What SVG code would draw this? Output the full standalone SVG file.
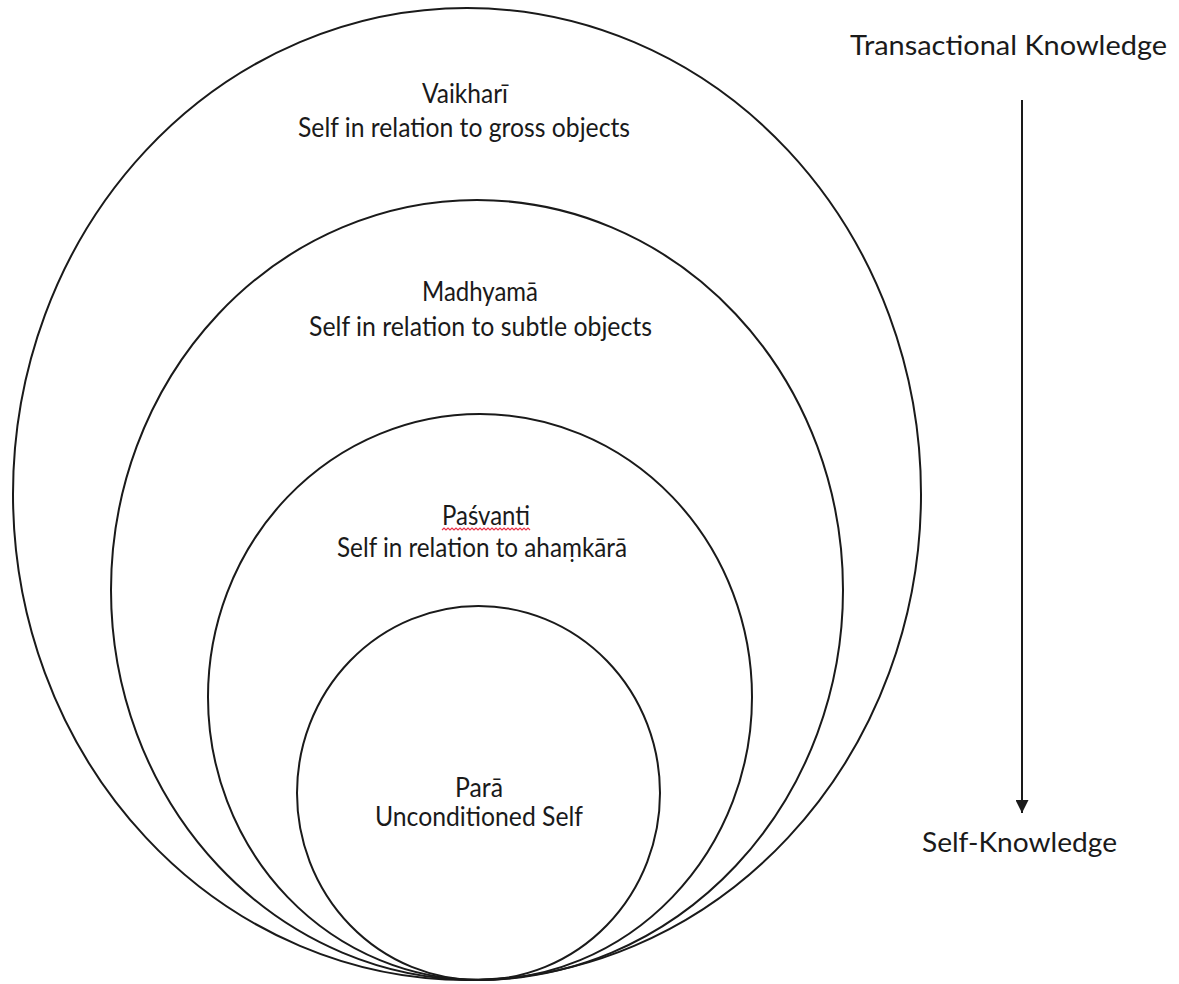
<svg xmlns="http://www.w3.org/2000/svg" width="1179" height="984" viewBox="0 0 1179 984">
<style>
.ring{fill:none;stroke:#1a1a1a;stroke-width:2}
.t{font-family:Lato,"Open Sans","Liberation Sans",sans-serif;font-size:26px;fill:#1a1a1a;text-anchor:middle}
</style>
<defs>
<marker id="ah" markerWidth="13" markerHeight="13" refX="13" refY="6.5" orient="auto" markerUnits="userSpaceOnUse" viewBox="0 0 13 13">
<path d="M0,0 L13,6.5 L0,13 Z" fill="#1a1a1a"/>
</marker>
</defs>
<rect width="1179" height="984" fill="#ffffff"/>
<g id="vaikhari">
<ellipse class="ring" cx="467" cy="494" rx="454" ry="486"/>
<text class="t" x="465" y="103" textLength="86" lengthAdjust="spacingAndGlyphs">Vaikharī</text>
<text class="t" x="464" y="137" textLength="332" lengthAdjust="spacingAndGlyphs">Self in relation to gross objects</text>
</g>
<g id="madhyama">
<ellipse class="ring" cx="477" cy="590" rx="366" ry="390"/>
<text class="t" x="480" y="301" textLength="116" lengthAdjust="spacingAndGlyphs">Madhyamā</text>
<text class="t" x="480.5" y="336" textLength="343" lengthAdjust="spacingAndGlyphs">Self in relation to subtle objects</text>
</g>
<g id="pasvanti">
<ellipse class="ring" cx="480" cy="697" rx="272" ry="283"/>
<text class="t" x="486" y="525" textLength="88" lengthAdjust="spacingAndGlyphs">Paśvanti</text>
<path d="M442,530 l2,-2 l2,2 l2,-2 l2,2 l2,-2 l2,2 l2,-2 l2,2 l2,-2 l2,2 l2,-2 l2,2 l2,-2 l2,2 l2,-2 l2,2 l2,-2 l2,2 l2,-2 l2,2 l2,-2 l2,2 l2,-2 l2,2 l2,-2 l2,2 l2,-2 l2,2 l2,-2 l2,2 l2,-2 l2,2 l2,-2 l2,2 l2,-2 l2,2 l2,-2 l2,2 l2,-2 l2,2 l2,-2 l2,2 l2,-2 l2,2" fill="none" stroke="#e8344a" stroke-width="1.2"/>
<text class="t" x="482" y="557" textLength="290" lengthAdjust="spacingAndGlyphs">Self in relation to ahaṃkārā</text>
</g>
<g id="para">
<ellipse class="ring" cx="478.5" cy="793" rx="181.5" ry="187"/>
<text class="t" x="479" y="797" textLength="48" lengthAdjust="spacingAndGlyphs">Parā</text>
<text class="t" x="479" y="826" textLength="208" lengthAdjust="spacingAndGlyphs">Unconditioned Self</text>
</g>
<g id="transactional">
<text class="t" x="1008.5" y="55" textLength="317" lengthAdjust="spacingAndGlyphs">Transactional Knowledge</text>
</g>
<g id="selfknowledge">
<text class="t" x="1019.5" y="852" textLength="195" lengthAdjust="spacingAndGlyphs">Self-Knowledge</text>
</g>
<g id="connectors">
<line x1="1022" y1="100" x2="1022" y2="813" stroke="#1a1a1a" stroke-width="2" marker-end="url(#ah)"/>
</g>
</svg>
